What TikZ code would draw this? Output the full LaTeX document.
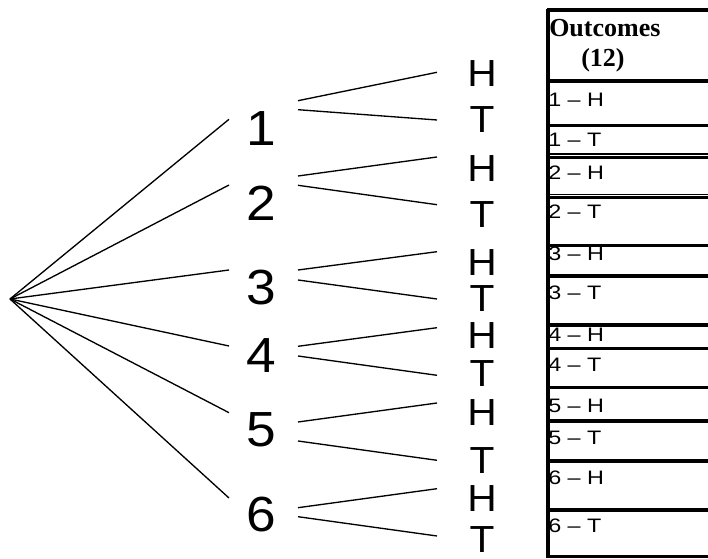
\documentclass[tikz,border=0pt]{standalone}
\usepackage{graphicx}
\usepackage{fontspec}
\setmainfont{Liberation Sans}
\newfontfamily\serifbold{Liberation Serif}
\newcommand\rowtext[1]{\scalebox{1.2}[1]{#1}}
\newcommand\widetext[1]{\scalebox{1.08}[1]{#1}}
\begin{document}
\begin{tikzpicture}[x=0.75pt,y=-0.75pt,
  branch/.style={line width=1pt},
  digit/.style={inner sep=0pt, font=\fontsize{37}{40}\selectfont},
  coin/.style={inner sep=0pt, font=\fontsize{28.3}{30}\selectfont},
  rowlabel/.style={inner sep=0pt, anchor=base west, font=\fontsize{14.6}{16}\selectfont},
  header/.style={inner sep=0pt, anchor=base west, font=\serifbold\bfseries\fontsize{19.5}{21}\selectfont},
  thickrule/.style={line width=2.3pt},
  thinrule/.style={line width=1.3pt}]

\useasboundingbox (0,0) rectangle (708,559);

\coordinate (root) at (10,299);

\foreach \i/\y/\a/\b/\c/\d/\e/\f/\g in {
  1/128.5/119.3/100.7/109.7/72.3/120/73.3/119.7,
  2/203.5/185/176/185.3/157/204.7/168.3/215,
  3/288/270/270/280/251.7/299/263/298.5,
  4/356/346/346.3/356/327.7/375.3/336/374,
  5/430/412.7/422/441/403/460.3/413/461,
  6/515/498/507.7/516.7/488.7/536/499/540}{
  \node[digit] (n\i) at (261,\y) {\widetext{\i}};
  \coordinate (in\i) at (229,\a);
  \coordinate (hs\i) at (298,\b);
  \coordinate (ts\i) at (298,\c);
  \coordinate (he\i) at (437,\d);
  \coordinate (te\i) at (437,\e);
  \node[coin] (H\i) at (482,\f) {\widetext{H}};
  \node[coin] (T\i) at (482,\g) {\widetext{T}};
  \draw[branch] (root) -- (in\i);
  \draw[branch] (hs\i) -- (he\i);
  \draw[branch] (ts\i) -- (te\i);
}

% table
\draw[thickrule] (548,9) -- (548,558);
\foreach \yy in {10,81,125.5,157.5,197.5,245.5,276,325,348.5,387.5,421,461,510,556.5}
  \draw[thickrule] (547,\yy) -- (708,\yy);
\foreach \yy in {154,194.5}
  \draw[thinrule] (548,\yy) -- (708,\yy);

\node[header] (hd1) at (549,36.7) {Outcomes};
\node[header] (hd2) at (581,66.7) {(12)};

\foreach \t/\yy [count=\k] in {1 – H/107, 1 – T/146.7, 2 – H/180, 2 – T/218.3,
  3 – H/261, 3 – T/299.3, 4 – H/341.7, 4 – T/371.7, 5 – H/413, 5 – T/445,
  6 – H/485, 6 – T/533}
  \node[rowlabel] (r\k) at (548,\yy) {\rowtext{\t}};
\end{tikzpicture}
\end{document}
